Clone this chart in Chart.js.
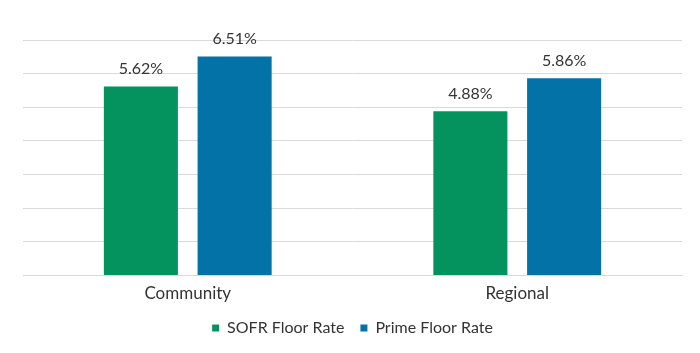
<!DOCTYPE html>
<html>
<head>
<meta charset="utf-8">
<script src="https://cdn.jsdelivr.net/npm/chart.js@4/dist/chart.umd.min.js"></script>
<style>
html,body{margin:0;padding:0;background:#fff;}
#wrap{width:700px;height:353px;position:relative;}
</style>
</head>
<body>
<div id="wrap"><canvas id="c"></canvas></div>
<script>
const categories = ["Community", "Regional"];
const sofrFloorRate = [5.62, 4.88];
const primeFloorRate = [6.51, 5.86];
const seriesNames = ["SOFR Floor Rate", "Prime Floor Rate"];
const yMax = 7;
const yStep = 1;

const valueLabels = {
  id: 'valueLabels',
  afterDatasetsDraw(chart) {
    const ctx = chart.ctx;
    ctx.save();
    ctx.font = '16px Lato';
    ctx.fillStyle = '#333333';
    ctx.textAlign = 'center';
    ctx.textBaseline = 'alphabetic';
    chart.data.datasets.forEach((ds, i) => {
      chart.getDatasetMeta(i).data.forEach((bar, j) => {
        ctx.fillText(ds.data[j].toFixed(2) + '%', bar.x, bar.y - 12);
      });
    });
    ctx.restore();
  }
};

new Chart(document.getElementById('c'), {
  type: 'bar',
  data: {
    labels: categories,
    datasets: [
      { label: seriesNames[0], data: sofrFloorRate, backgroundColor: '#04935F' },
      { label: seriesNames[1], data: primeFloorRate, backgroundColor: '#0272A7' }
    ]
  },
  options: {
    responsive: true,
    maintainAspectRatio: false,
    animation: false,
    devicePixelRatio: 1,
    layout: { padding: { left: 23, right: 18, top: 40, bottom: 7 } },
    datasets: { bar: { categoryPercentage: 0.569, barPercentage: 0.79 } },
    scales: {
      x: {
        grid: { display: false },
        border: { display: true, color: '#d9d9d9' },
        ticks: { color: '#333333', font: { family: 'Lato', size: 17 }, padding: 0 }
      },
      y: {
        min: 0, max: yMax,
        ticks: { display: false, stepSize: yStep },
        grid: { color: '#d9d9d9', drawTicks: false, lineWidth: 1 },
        border: { display: false }
      }
    },
    plugins: {
      legend: {
        position: 'bottom',
        labels: { color: '#333333', font: { family: 'Lato', size: 16 }, boxWidth: 7, boxHeight: 7, padding: 16 }
      },
      tooltip: { enabled: false }
    }
  },
  plugins: [valueLabels]
});
</script>
</body>
</html>
